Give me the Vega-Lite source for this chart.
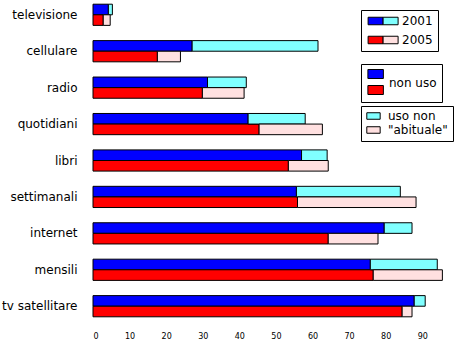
{
  "$schema": "https://vega.github.io/schema/vega-lite/v6.json",
  "width": 360,
  "height": 321,
  "autosize": {"type": "none"},
  "padding": {"left": 93, "top": 0, "right": 2, "bottom": 22},
  "background": "white",
  "config": {"view": {"stroke": null}, "font": "DejaVu Sans"},
  "data": {
    "values": [
      {"cat": "televisione", "anno": "2001", "non_uso": 4.2, "totale": 5.3},
      {"cat": "televisione", "anno": "2005", "non_uso": 2.8, "totale": 4.7},
      {"cat": "cellulare", "anno": "2001", "non_uso": 27.1, "totale": 61.5},
      {"cat": "cellulare", "anno": "2005", "non_uso": 17.6, "totale": 23.9},
      {"cat": "radio", "anno": "2001", "non_uso": 31.3, "totale": 41.9},
      {"cat": "radio", "anno": "2005", "non_uso": 29.9, "totale": 41.3},
      {"cat": "quotidiani", "anno": "2001", "non_uso": 42.4, "totale": 58.0},
      {"cat": "quotidiani", "anno": "2005", "non_uso": 45.4, "totale": 62.7},
      {"cat": "libri", "anno": "2001", "non_uso": 57.0, "totale": 64.0},
      {"cat": "libri", "anno": "2005", "non_uso": 53.4, "totale": 64.3},
      {"cat": "settimanali", "anno": "2001", "non_uso": 55.6, "totale": 84.0},
      {"cat": "settimanali", "anno": "2005", "non_uso": 55.9, "totale": 88.3},
      {"cat": "internet", "anno": "2001", "non_uso": 79.6, "totale": 87.2},
      {"cat": "internet", "anno": "2005", "non_uso": 64.3, "totale": 77.9},
      {"cat": "mensili", "anno": "2001", "non_uso": 75.8, "totale": 94.1},
      {"cat": "mensili", "anno": "2005", "non_uso": 76.6, "totale": 95.5},
      {"cat": "tv satellitare", "anno": "2001", "non_uso": 87.8, "totale": 90.8},
      {"cat": "tv satellitare", "anno": "2005", "non_uso": 84.5, "totale": 87.2}
    ]
  },
  "encoding": {
    "y": {
      "field": "cat", "type": "nominal", "sort": null,
      "scale": {"paddingInner": 0.418, "paddingOuter": 0.115},
      "axis": {"title": null, "domain": false, "ticks": false, "labelPadding": 16, "labelFontSize": 12, "labelColor": "black", "labelFont": "DejaVu Sans"}
    },
    "yOffset": {"field": "anno", "type": "nominal", "scale": {"paddingInner": 0, "paddingOuter": 0}},
    "x": {
      "field": "non_uso", "type": "quantitative",
      "scale": {"domain": [0, 98.4], "nice": false, "zero": true},
      "axis": {"title": null, "domain": false, "ticks": false, "grid": false, "values": [0, 10, 20, 30, 40, 50, 60, 70, 80, 90], "labelPadding": 11, "labelFontSize": 8, "labelColor": "black", "labelFont": "DejaVu Sans"}
    }
  },
  "layer": [
    {
      "mark": {"type": "bar", "stroke": "black", "strokeWidth": 1},
      "encoding": {
        "x2": {"datum": 0},
        "fill": {
          "field": "anno", "type": "nominal",
          "scale": {"domain": ["2001", "2005"], "range": ["#0000ff", "#ff0000"]},
          "legend": {"orient": "none", "legendX": 268, "legendY": 10, "title": null, "symbolType": "M-0.975,-0.94H2.775V0.94H-0.975Z", "symbolSize": 64, "symbolStrokeColor": "black", "symbolStrokeWidth": 1, "symbolOpacity": 1, "labelOffset": 24, "labelFont": "DejaVu Sans", "labelFontSize": 12, "labelColor": "black", "rowPadding": 7, "padding": 5, "strokeColor": "black"}
        }
      }
    },
    {
      "mark": {"type": "bar", "stroke": "black", "strokeWidth": 1},
      "encoding": {
        "x2": {"field": "totale"},
        "fill": {
          "field": "anno", "type": "nominal",
          "scale": {"domain": ["2001", "2005"], "range": ["#80ffff", "#ffe0e0"]},
          "legend": {"orient": "none", "legendX": 268, "legendY": 10, "title": null, "symbolType": "M2.775,-0.94H6.525V0.94H2.775Z", "symbolSize": 64, "symbolStrokeColor": "black", "symbolStrokeWidth": 1, "symbolOpacity": 1, "labelExpr": "''", "labelOffset": 24, "labelFont": "DejaVu Sans", "labelFontSize": 12, "rowPadding": 7, "padding": 5}
        }
      }
    },
    {
      "transform": [{"filter": "false"}],
      "mark": {"type": "bar", "stroke": "black", "strokeWidth": 1},
      "encoding": {
        "fill": {
          "field": "anno", "type": "nominal",
          "scale": {"domain": ["2001", "2005"], "range": ["#0000ff", "#ff0000"]},
          "legend": {"orient": "none", "legendX": 268, "legendY": 64, "title": "non uso", "titleOrient": "right", "titleFont": "DejaVu Sans", "titleFontSize": 12, "titleFontWeight": "normal", "titleColor": "black", "titlePadding": 4, "titleAnchor": "middle", "titleBaseline": "middle", "symbolType": "M-0.69,-1H2.75V1H-0.69Z", "symbolSize": 81, "symbolStrokeColor": "black", "symbolStrokeWidth": 1, "symbolOpacity": 1, "labelExpr": "''", "labelOffset": 0, "labelFontSize": 10, "rowPadding": 2, "padding": 5, "strokeColor": "black"}
        }
      }
    },
    {
      "transform": [{"filter": "false"}],
      "mark": {"type": "bar", "stroke": "black", "strokeWidth": 1},
      "encoding": {
        "fill": {
          "field": "anno", "type": "nominal",
          "scale": {"domain": ["2001", "2005"], "range": ["#80ffff", "#ffe0e0"]},
          "legend": {"orient": "none", "legendX": 268, "legendY": 106, "title": ["uso non", "\"abituale\""], "titleOrient": "right", "titleFont": "DejaVu Sans", "titleFontSize": 12, "titleLineHeight": 14, "titleFontWeight": "normal", "titleColor": "black", "titlePadding": 6, "titleAnchor": "middle", "titleBaseline": "middle", "symbolType": "M-1.2,-0.93H2.62V0.93H-1.2Z", "symbolSize": 49, "symbolStrokeColor": "black", "symbolStrokeWidth": 1, "symbolOpacity": 1, "labelExpr": "''", "labelOffset": 0, "labelFontSize": 10, "rowPadding": 2, "padding": 5, "strokeColor": "black"}
        }
      }
    }
  ],
  "resolve": {"scale": {"fill": "independent"}}
}
